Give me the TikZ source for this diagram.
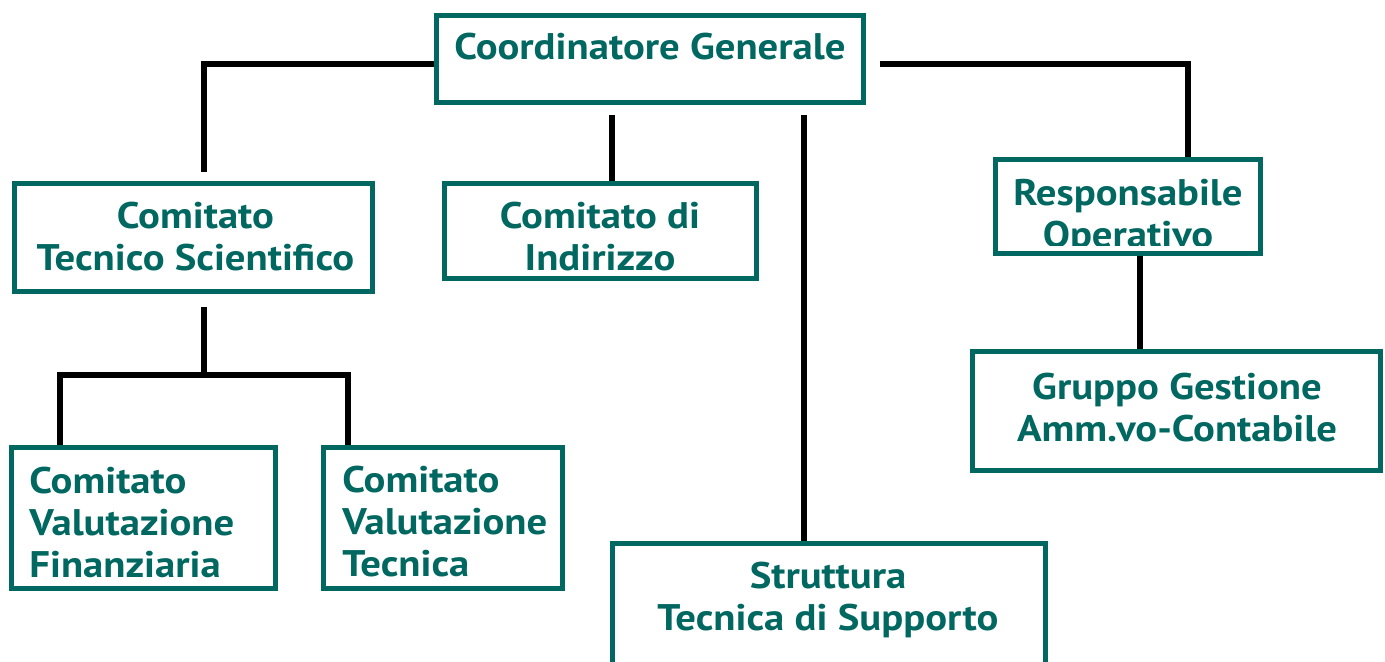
\documentclass[tikz,border=0pt]{standalone}
\usepackage{fontspec}
\setmainfont{PT Sans}[FakeStretch=1.1]
\definecolor{tealc}{RGB}{0,104,96}
\begin{document}
\begin{tikzpicture}[x=0.5pt,y=-0.5pt,
  box/.style={draw=tealc, line width=2.5pt, inner sep=0pt, fill=white},
  txt/.style={text=tealc, font=\bfseries\fontsize{18.5}{21}\selectfont, inner sep=0pt},
  conn/.style={draw=black, line width=3pt}]
\useasboundingbox (0,0) rectangle (1385,661);
\clip (0,0) rectangle (1385,661);
% boxes
\node[box, minimum width=213.5pt, minimum height=43.5pt] (cg) at (650,59) {};
\node[box, minimum width=179pt, minimum height=54pt] (cts) at (193.5,237.5) {};
\node[box, minimum width=156pt, minimum height=47.5pt] (cdi) at (600.5,231) {};
\node[box, minimum width=132.5pt, minimum height=47pt] (ro) at (1128,206.5) {};
\node[box, minimum width=204pt, minimum height=59.5pt] (gg) at (1176.5,411) {};
\node[box, minimum width=132pt, minimum height=70.5pt] (cvf) at (143.5,518) {};
\node[box, minimum width=119.5pt, minimum height=70.5pt] (cvt) at (443,518) {};
\node[box, minimum width=216.5pt, minimum height=78.25pt] (stu) at (829,621.75) {};
% texts
\node[txt] (tcg) at (650,47) {Coordinatore Generale};
\node[txt, align=center] (tcts) at (195.5,237) {Comitato\\Tecnico Scientifico};
\node[txt, align=center] (tcdi) at (600,237) {Comitato di\\Indirizzo};
\begin{scope}
\clip (996,150) rectangle (1260,245);
\node[txt, align=center] (tro) at (1128,217) {Responsabile\\Operativo};
\end{scope}
\node[txt, align=center] (tgg) at (1177,408) {Gruppo Gestione\\Amm.vo-Contabile};
\node[txt, align=left, anchor=west] (tcvf) at (29,522) {Comitato\\Valutazione\\Finanziaria};
\node[txt, align=left, anchor=west] (tcvt) at (342,522) {Comitato\\Valutazione\\Tecnica};
\node[txt, align=center] (tstu) at (828,600) {Struttura\\Tecnica di Supporto};
% connectors
\coordinate (j1) at (204,172);
\draw[conn] ([yshift=-2.5pt]cg.west) -| (j1);
\draw[conn] ([xshift=6.75pt,yshift=-2.5pt]cg.east) -| (ro.north -| 1188,0);
\draw[conn] ([yshift=-4.75pt]cg.south -| 612,0) -- (cdi.north -| 612,0);
\draw[conn] ([yshift=-4.75pt]cg.south -| 804,0) -- (stu.north -| 804,0);
\coordinate (jc) at (204,375);
\draw[conn] ([yshift=-6.25pt]cts.south -| 204,0) -- (jc);
\draw[conn] (cvf.north -| 60,0) |- (jc) -| (cvt.north -| 348,0);
\draw[conn] (ro.south -| 1140,0) -- (gg.north -| 1140,0);
\end{tikzpicture}
\end{document}
